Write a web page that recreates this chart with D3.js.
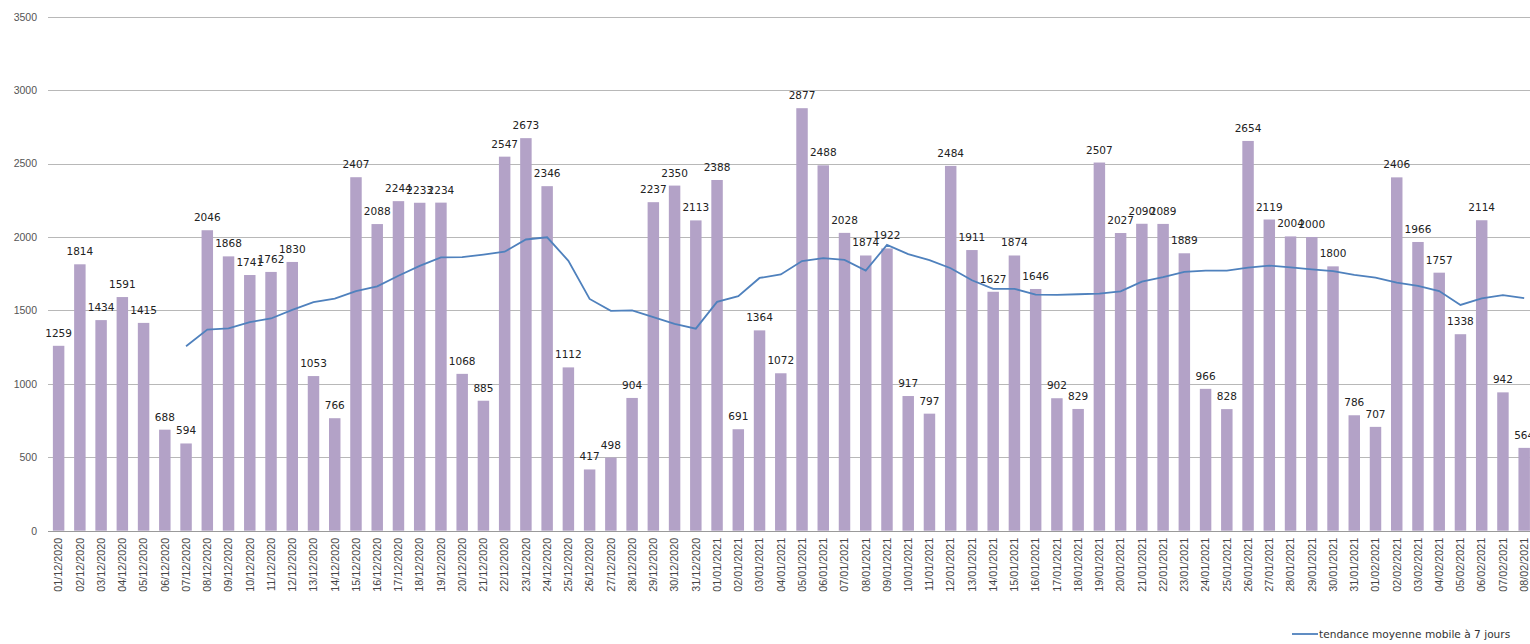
<!DOCTYPE html>
<html>
<head>
<meta charset="utf-8">
<script src="https://cdn.jsdelivr.net/npm/d3@7"></script>
<style>
  body { margin: 0; background: #fff; }
  svg { display: block; font-family: "DejaVu Sans", Verdana, sans-serif; }
</style>
</head>
<body>
<svg id="chart"></svg>
<script>
// dates (jours)
var dates = [
  "01/12/2020","02/12/2020","03/12/2020","04/12/2020","05/12/2020","06/12/2020","07/12/2020",
  "08/12/2020","09/12/2020","10/12/2020","11/12/2020","12/12/2020","13/12/2020","14/12/2020",
  "15/12/2020","16/12/2020","17/12/2020","18/12/2020","19/12/2020","20/12/2020","21/12/2020",
  "22/12/2020","23/12/2020","24/12/2020","25/12/2020","26/12/2020","27/12/2020","28/12/2020",
  "29/12/2020","30/12/2020","31/12/2020","01/01/2021","02/01/2021","03/01/2021","04/01/2021",
  "05/01/2021","06/01/2021","07/01/2021","08/01/2021","09/01/2021","10/01/2021","11/01/2021",
  "12/01/2021","13/01/2021","14/01/2021","15/01/2021","16/01/2021","17/01/2021","18/01/2021",
  "19/01/2021","20/01/2021","21/01/2021","22/01/2021","23/01/2021","24/01/2021","25/01/2021",
  "26/01/2021","27/01/2021","28/01/2021","29/01/2021","30/01/2021","31/01/2021","01/02/2021",
  "02/02/2021","03/02/2021","04/02/2021","05/02/2021","06/02/2021","07/02/2021","08/02/2021"
];

// valeurs journalières (barres)
var values = [
  1259, 1814, 1434, 1591, 1415, 688, 594,
  2046, 1868, 1741, 1762, 1830, 1053, 766,
  2407, 2088, 2244, 2233, 2234, 1068, 885,
  2547, 2673, 2346, 1112, 417, 498, 904,
  2237, 2350, 2113, 2388, 691, 1364, 1072,
  2877, 2488, 2028, 1874, 1922, 917, 797,
  2484, 1911, 1627, 1874, 1646, 902, 829,
  2507, 2027, 2090, 2089, 1889, 966, 828,
  2654, 2119, 2004, 2000, 1800, 786, 707,
  2406, 1966, 1757, 1338, 2114, 942, 564
];

// tendance moyenne mobile à 7 jours (à partir du 07/12/2020)
var trendStart = 6;
var trend = [
  1256, 1369, 1377, 1420, 1445, 1504, 1556, 1581, 1632, 1664,
  1736, 1803, 1861, 1863, 1880, 1900, 1983, 1998, 1838, 1578,
  1497, 1500, 1455, 1409, 1376, 1558, 1597, 1721, 1745, 1836,
  1856, 1844, 1771, 1946, 1883, 1843, 1787, 1705, 1647, 1647,
  1608, 1606, 1610, 1614, 1630, 1696, 1727, 1762, 1771, 1771,
  1792, 1805, 1793, 1780, 1767, 1742, 1724, 1689, 1667, 1632,
  1537, 1582, 1604, 1584
];

var yTicks = [0, 500, 1000, 1500, 2000, 2500, 3000, 3500];
var legendLabel = "tendance moyenne mobile à 7 jours";

var W = 1530, H = 644;
var margin = {left: 48, top: 16.7, bottom: 530.7};
var step = 21.24;

var svg = d3.select("#chart").attr("width", W).attr("height", H);

var x = d3.scaleBand()
  .domain(dates)
  .range([margin.left, margin.left + step * dates.length])
  .paddingInner(0.46)
  .paddingOuter(0.23);

var y = d3.scaleLinear()
  .domain([0, 3500])
  .range([margin.bottom, margin.top]);

// grille horizontale
svg.append("g")
  .selectAll("line")
  .data(yTicks)
  .join("line")
  .attr("x1", margin.left)
  .attr("x2", W)
  .attr("y1", function(d){ return Math.round(y(d)) + 0.5; })
  .attr("y2", function(d){ return Math.round(y(d)) + 0.5; })
  .attr("stroke", function(d){ return d === 0 ? "#9a9a9a" : "#b8b8b8"; })
  .attr("stroke-width", 1.2);

// axe y
var yAxis = d3.axisLeft(y).tickValues(yTicks).tickFormat(d3.format("d")).tickSize(0).tickPadding(11);
var gy = svg.append("g")
  .attr("transform", "translate(" + margin.left + ",0)")
  .call(yAxis);
gy.select(".domain").remove();
gy.selectAll("text").attr("fill", "#555").style("font-size", "10.5px").style("font-family", "inherit");

// barres
svg.append("g")
  .selectAll("rect")
  .data(values)
  .join("rect")
  .attr("x", function(d, i){ return x(dates[i]); })
  .attr("width", x.bandwidth())
  .attr("y", function(d){ return y(d); })
  .attr("height", function(d){ return y(0) - y(d); })
  .attr("fill", "#b3a2c7");

// étiquettes de valeurs
svg.append("g")
  .selectAll("text")
  .data(values)
  .join("text")
  .attr("x", function(d, i){ return x(dates[i]) + x.bandwidth() / 2; })
  .attr("y", function(d){ return y(d) - 9; })
  .attr("text-anchor", "middle")
  .attr("fill", "#222")
  .style("font-size", "10.5px")
  .text(function(d){ return d; });

// axe x (dates verticales)
var xAxis = d3.axisBottom(x).tickSize(0).tickPadding(0);
var gx = svg.append("g")
  .attr("transform", "translate(0," + margin.bottom + ")")
  .call(xAxis);
gx.select(".domain").remove();
gx.selectAll("text")
  .attr("transform", "rotate(-90)")
  .attr("x", -7)
  .attr("y", 0)
  .attr("dy", "0.35em")
  .attr("text-anchor", "end")
  .attr("fill", "#444")
  .style("font-size", "10.8px")
  .style("font-family", "inherit");

// ligne de tendance
var line = d3.line()
  .x(function(d, i){ return x(dates[i + trendStart]) + x.bandwidth() / 2; })
  .y(function(d){ return y(d); });

svg.append("path")
  .datum(trend)
  .attr("d", line)
  .attr("fill", "none")
  .attr("stroke", "#4f81bd")
  .attr("stroke-width", 1.8);

// légende
var lg = svg.append("g").attr("transform", "translate(1292,634)");
lg.append("line")
  .attr("x1", 0).attr("x2", 26)
  .attr("stroke", "#4f81bd").attr("stroke-width", 1.8);
lg.append("text")
  .attr("x", 27).attr("y", 3.5)
  .attr("fill", "#333")
  .style("font-size", "10.6px")
  .text(legendLabel);
</script>
</body>
</html>
